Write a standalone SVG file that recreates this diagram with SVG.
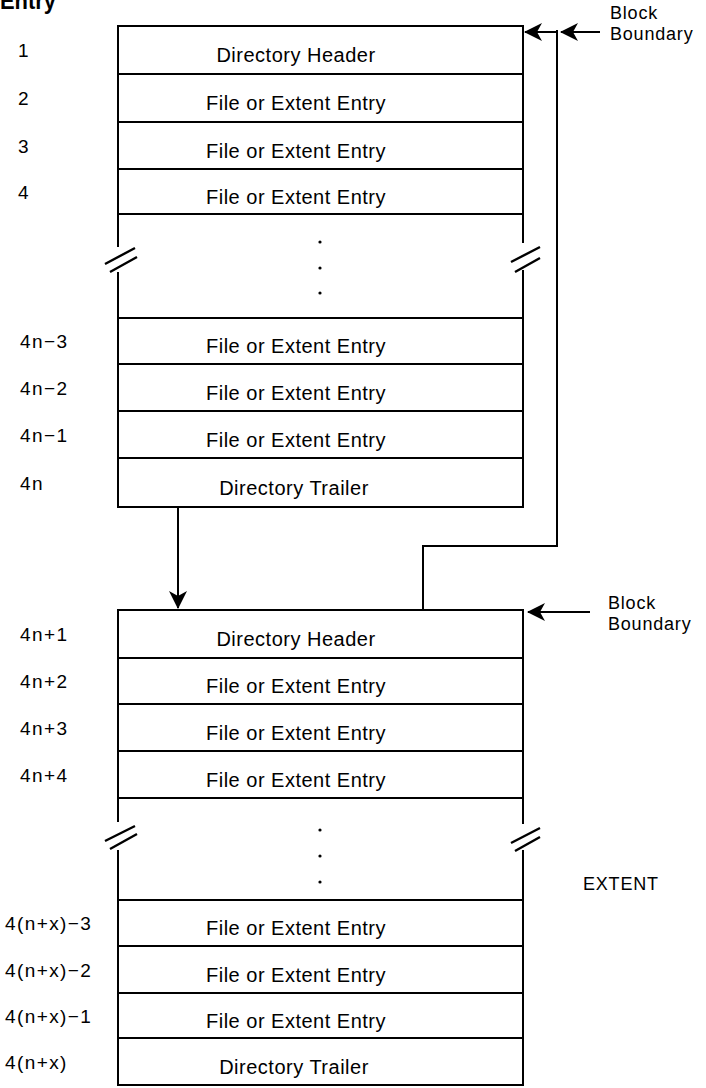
<svg xmlns="http://www.w3.org/2000/svg" width="706" height="1088" viewBox="0 0 706 1088">
<style>
.bg{fill:#ffffff}
.row{fill:#ffffff;stroke:#000;stroke-width:2}
.ln{fill:none;stroke:#000;stroke-width:2}
.sl{fill:none;stroke:#000;stroke-width:2.4}
.t{font-family:"Liberation Sans",Arial,sans-serif;font-size:20px;letter-spacing:0.5px;text-anchor:middle;fill:#000}
.lb{font-family:"Liberation Sans",Arial,sans-serif;font-size:19px;letter-spacing:1.4px;fill:#000}
.bb{font-family:"Liberation Sans",Arial,sans-serif;font-size:18px;letter-spacing:0.8px;fill:#000}
.dot{fill:#000}
</style>
<defs>
<marker id="ah" markerUnits="userSpaceOnUse" markerWidth="18" markerHeight="18" refX="17" refY="9" orient="auto">
<path d="M0,0 L18,9 L0,18 L5,9 z" fill="#000"/>
</marker>
</defs>
<rect class="bg" x="0" y="0" width="706" height="1088"/>
<text x="0" y="9" font-family="'Liberation Sans',Arial,sans-serif" font-size="24" font-weight="bold" textLength="56" lengthAdjust="spacingAndGlyphs">Entry</text>

<g id="top-block">
<g id="r1"><rect class="row" x="118" y="26" width="405" height="48"/><text class="t" x="296" y="62">Directory Header</text><text class="lb" x="18" y="57">1</text></g>
<g id="r2"><rect class="row" x="118" y="74" width="405" height="48"/><text class="t" x="296" y="110">File or Extent Entry</text><text class="lb" x="18" y="105">2</text></g>
<g id="r3"><rect class="row" x="118" y="122" width="405" height="47"/><text class="t" x="296" y="157.5">File or Extent Entry</text><text class="lb" x="18" y="152.5">3</text></g>
<g id="r4"><rect class="row" x="118" y="169" width="405" height="45"/><text class="t" x="296" y="203.5">File or Extent Entry</text><text class="lb" x="18" y="198.5">4</text></g>
<g id="gap1">
<path class="ln" d="M118,214 V247 M118,272 V318 M523,214 V243 M523,270 V318"/>
<path class="sl" d="M105,264 L135,248 M110,272 L137,257 M511,262 L540,247 M515,272 L540,258"/>
<circle class="dot" cx="320" cy="242" r="1.6"/><circle class="dot" cx="320" cy="268" r="1.6"/><circle class="dot" cx="320" cy="293" r="1.6"/>
</g>
<g id="r5"><rect class="row" x="118" y="318" width="405" height="46"/><text class="t" x="296" y="353">File or Extent Entry</text><text class="lb" x="20" y="348">4n−3</text></g>
<g id="r6"><rect class="row" x="118" y="364" width="405" height="47"/><text class="t" x="296" y="399.5">File or Extent Entry</text><text class="lb" x="20" y="394.5">4n−2</text></g>
<g id="r7"><rect class="row" x="118" y="411" width="405" height="47"/><text class="t" x="296" y="446.5">File or Extent Entry</text><text class="lb" x="20" y="441.5">4n−1</text></g>
<g id="r8"><rect class="row" x="118" y="458" width="405" height="49"/><text class="t" x="294" y="494.5">Directory Trailer</text><text class="lb" x="20" y="489.5">4n</text></g>
</g>

<g id="bottom-block">
<g id="s1"><rect class="row" x="118" y="610" width="405" height="48"/><text class="t" x="296" y="646">Directory Header</text><text class="lb" x="20" y="641">4n+1</text></g>
<g id="s2"><rect class="row" x="118" y="658" width="405" height="46"/><text class="t" x="296" y="693">File or Extent Entry</text><text class="lb" x="20" y="688">4n+2</text></g>
<g id="s3"><rect class="row" x="118" y="704" width="405" height="47"/><text class="t" x="296" y="739.5">File or Extent Entry</text><text class="lb" x="20" y="734.5">4n+3</text></g>
<g id="s4"><rect class="row" x="118" y="751" width="405" height="47"/><text class="t" x="296" y="786.5">File or Extent Entry</text><text class="lb" x="20" y="781.5">4n+4</text></g>
<g id="gap2">
<path class="ln" d="M118,798 V822 M118,850 V900 M523,798 V824 M523,850 V900"/>
<path class="sl" d="M105,841 L135,826 M110,849 L137,834 M511,843 L540,828 M515,851 L540,837"/>
<circle class="dot" cx="320" cy="830" r="1.6"/><circle class="dot" cx="320" cy="856" r="1.6"/><circle class="dot" cx="320" cy="882" r="1.6"/>
</g>
<g id="s5"><rect class="row" x="118" y="900" width="405" height="46"/><text class="t" x="296" y="935">File or Extent Entry</text><text class="lb" x="5" y="930">4(n+x)−3</text></g>
<g id="s6"><rect class="row" x="118" y="946" width="405" height="47"/><text class="t" x="296" y="981.5">File or Extent Entry</text><text class="lb" x="5" y="976.5">4(n+x)−2</text></g>
<g id="s7"><rect class="row" x="118" y="993" width="405" height="45"/><text class="t" x="296" y="1027.5">File or Extent Entry</text><text class="lb" x="5" y="1022.5">4(n+x)−1</text></g>
<g id="s8"><rect class="row" x="118" y="1038" width="405" height="47"/><text class="t" x="294" y="1073.5">Directory Trailer</text><text class="lb" x="5" y="1068.5">4(n+x)</text></g>
</g>

<g id="labels">
<text class="bb" x="610" y="19">Block</text>
<text class="bb" x="610" y="40">Boundary</text>
<text class="bb" x="608" y="609">Block</text>
<text class="bb" x="608" y="630">Boundary</text>
<text class="bb" x="583" y="890" font-size="17">EXTENT</text>
</g>

<g id="connectors">
<path class="ln" d="M178,507 V608" marker-end="url(#ah)"/>
<path class="ln" d="M557,30 V546 H423 V610"/>
<path class="ln" d="M557,32 H525" marker-end="url(#ah)"/>
<path class="ln" d="M600,32 H561" marker-end="url(#ah)"/>
<path class="ln" d="M590,612 H528" marker-end="url(#ah)"/>
</g>
</svg>
